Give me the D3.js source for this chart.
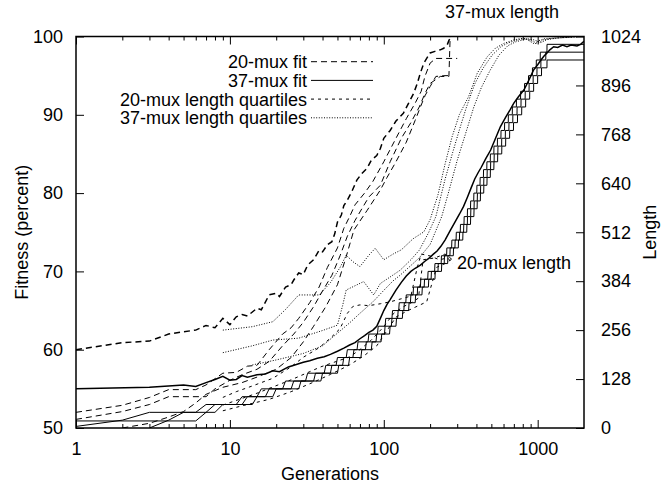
<!DOCTYPE html>
<html>
<head>
<meta charset="utf-8">
<script src="https://cdn.jsdelivr.net/npm/d3@7/dist/d3.min.js"></script>
<style>
body { margin: 0; background: #fff; }
text { font-family: "Liberation Sans", Arial, sans-serif; font-size: 18px; fill: #000; }
</style>
</head>
<body>
<svg id="chart" width="669" height="487"></svg>
<script>
// --- data: [generation, value] ---
// 20-mux fitness (percent), best and three quartiles
const fit20Best = [[1,60],[2,60.9],[3,61.1],[4,62],[5,62.3],[6,62.5],[7,63.1],[8,62.8],[9,64],[10,63.2],[11,64.2],[12,64.5],[13,64.3],[15,65.3],[16,65.1],[18,67],[20,67.2],[21,66.8],[23,68],[25,68.3],[26,68.9],[28,69.8],[30,69.6],[32,70.8],[35,71.5],[38,72.7],[40,72.5],[43,73.4],[46,73.8],[48,74.8],[50,76.3],[53,77.2],[55,78.4],[58,79.1],[62,80.2],[67,81.7],[72,82.5],[78,83.2],[83,84.2],[90,84.8],[95,85.7],[100,87],[110,88],[120,89.2],[134,90.2],[145,91.5],[156,92.7],[165,94],[172,95.2],[182,96.6],[190,97.2],[200,97.9],[215,98.1],[233,98.3],[245,98.5],[258,98.9],[265,99.5],[275,100]];
const fit20Q1 = [[1,52],[2,52.9],[3,53.9],[4,54.9],[6,54.9],[7,55.5],[9,57],[11,57.1],[13,57.9],[15,58],[18,60],[22,62],[25,62.8],[28,64],[33,66],[38,68],[43,70.5],[50,73],[55,75.5],[60,77],[65,78.5],[75,80],[85,81.5],[100,84],[120,87],[140,89.5],[160,91.5],[175,93],[185,94.9],[200,96.6],[218,97.2],[300,97.2]];
const fit20Q2 = [[1,51.1],[2,52.1],[3,53],[4,54],[7,54],[8,55],[10,56.1],[12,56.8],[15,57.5],[18,58.5],[22,60.5],[26,62],[30,63.5],[35,65.5],[40,67.5],[46,69.5],[52,72],[58,74.5],[65,76.5],[72,78],[80,79.5],[95,81],[110,84],[130,87],[150,89],[170,91],[185,92.7],[200,94],[233,94.9],[265,94.9],[270,100]];
const fit20Q3 = [[2,50],[3,50.6],[4,51.4],[5,52.1],[6,53.2],[7,54.3],[9,55.2],[12,55.8],[15,56.5],[20,57.5],[25,59],[30,61],[35,63],[42,65.5],[50,68.3],[57,71.9],[64,75.3],[78,77.8],[95,80.4],[105,82],[120,84],[140,86.5],[160,89.3],[173,91],[186,92.5],[200,93.6],[218,94.9],[250,95],[262,95]];

// 37-mux fitness (percent): best, and the three quartiles as level changes
const fit37Best = [[1,55],[3,55.2],[5,55.5],[6,55.3],[7,55.8],[8,56.2],[9,56.6],[10,56.1],[11,56.2],[12,56.7],[13,56.5],[15,56.8],[17,56.9],[19,57.3],[21,57.2],[24,57.8],[27,58.1],[30,58.4],[33,58.6],[37,58.9],[41,59.1],[45,59.4],[50,59.8],[55,60.2],[60,60.6],[65,60.9],[70,61.4],[75,61.8],[80,62.2],[85,62.5],[90,63],[95,64],[100,65],[105,65.8],[110,66.4],[120,67.6],[130,68.6],[140,69.4],[150,70],[160,70.4],[173,70.8],[185,71.3],[197,71.7],[210,72.2],[222,72.6],[235,73.2],[250,74],[270,75.2],[290,76.3],[310,77.3],[330,78.3],[350,79.5],[370,80.7],[390,81.8],[410,82.6],[430,83.3],[460,84.4],[495,85.5],[530,86.9],[573,88.5],[620,89.7],[660,90.6],[700,91.5],[750,92.3],[815,93.2],[870,94.3],[940,95.7],[1000,96.4],[1050,97],[1100,97.5],[1150,97.9],[1200,98.3],[1270,98.7],[1350,98.6],[1450,98.9],[1550,98.7],[1650,98.9],[1800,98.8],[1900,99],[2000,99.4]];
const fit37Q1 = [[1,50.9],[7,52],[8,53],[12,54],[16,55],[23,56],[32,57],[42,58],[50,59],[58,60],[68,61],[80,62],[92,63],[103,64],[114,65],[126,66],[140,67],[156,68],[174,69],[194,70],[215,71],[237,72],[257,73],[277,74],[296,75],[315,76],[333,77],[350,78],[367,79],[385,80],[403,81],[423,82],[445,83],[468,84],[493,85],[520,86],[548,87],[578,88],[610,89],[645,90],[685,91],[728,92],[775,93],[822,94],[872,95],[925,96],[980,97],[1040,98],[1150,99]];
const fit37Q2 = [[1,50.2],[2,51],[3,52],[9,53],[13,54],[18,55],[26,56],[36,57],[46,58],[55,59],[64,60],[77,61],[90,62],[102,63],[113,64],[124,65],[136,66],[150,67],[166,68],[184,69],[204,70],[226,71],[248,72],[270,73],[291,74],[311,75],[331,76],[350,77],[368,78],[387,79],[406,80],[426,81],[447,82],[470,83],[495,84],[522,85],[552,86],[584,87],[617,88],[651,89],[690,90],[735,91],[780,92],[830,93],[880,94],[935,95],[990,96],[1050,97],[1130,98]];
const fit37Q3 = [[3,50],[4,51],[5,52],[7,53],[15,54],[20,55],[29,56],[40,57],[51,58],[60,59],[72,60],[84,61],[97,62],[110,63],[121,64],[133,65],[146,66],[161,67],[178,68],[196,69],[216,70],[238,71],[261,72],[284,73],[306,74],[327,75],[347,76],[367,77],[386,78],[405,79],[425,80],[447,81],[469,82],[493,83],[520,84],[550,85],[585,86],[620,87],[658,88],[697,89],[740,90],[788,91],[836,92],[888,93],[942,94],[1000,95],[1060,96],[1150,97]];

// program length quartiles (right axis)
const len20Q1 = [[9,80],[11,95],[14,110],[19,130],[25,160],[30,185],[38,210],[45,235],[52,260],[58,300],[63,318],[70,322],[80,320],[95,325],[110,330],[130,338],[150,345],[165,420],[175,455],[200,450],[230,440],[260,445],[280,430]];
const len20Q2 = [[9,60],[15,91],[25,126],[39,160],[50,175],[60,186],[70,205],[83,230],[100,265],[116,300],[135,318],[155,330],[168,340],[180,440],[215,445],[250,455],[280,440]];
const len20Q3 = [[9,45],[12,58],[18,75],[25,95],[35,120],[45,140],[60,165],[75,190],[90,215],[105,255],[120,290],[140,305],[160,316],[190,330],[220,420],[250,430],[285,445]];
const len37Q1 = [[9,256],[14,265],[19,278],[23,310],[28,348],[38,348],[45,380],[52,420],[57,452],[63,435],[70,422],[80,452],[88,470],[100,440],[115,455],[130,466],[155,495],[182,513],[200,545],[225,610],[250,690],[278,762],[310,820],[356,867],[405,928],[470,971],[530,993],[603,1006],[700,1015],[780,1019],[850,1016],[920,1008],[960,1004],[1000,1012],[1100,1018],[1300,1020],[1600,1022],[2000,1026]];
const len37Q2 = [[9,197],[14,215],[19,230],[28,235],[40,255],[50,269],[54,320],[57,361],[65,372],[74,383],[86,348],[95,378],[110,395],[128,413],[150,440],[170,465],[195,510],[218,553],[250,650],[280,720],[310,780],[345,840],[390,900],[440,940],[505,975],[580,998],[650,1008],[760,1016],[840,1019],[920,1012],[1000,1006],[1080,1015],[1300,1020],[1700,1022],[2000,1026]];
const len37Q3 = [[14,165],[20,178],[30,195],[40,215],[50,248],[60,275],[70,300],[85,330],[100,360],[115,385],[128,400],[150,425],[170,445],[200,480],[238,553],[265,620],[300,700],[340,770],[385,840],[430,890],[490,935],[560,975],[640,1000],[720,1010],[850,1018],[950,1015],[1050,1008],[1150,1016],[1400,1021],[2000,1025]];

const fitTicks = [50, 60, 70, 80, 90, 100];
const lenTicks = [0, 128, 256, 384, 512, 640, 768, 896, 1024];
const genTicks = [1, 10, 100, 1000];
const legendLabels = ["20-mux fit", "37-mux fit", "20-mux length quartiles", "37-mux length quartiles"];

// --- layout ---
const svg = d3.select("#chart");
const m = { left: 76, right: 584, top: 36.5, bottom: 428 };

const x = d3.scaleLog().domain([1, 2000]).range([m.left, m.right]);
const yFit = d3.scaleLinear().domain([50, 100]).range([m.bottom, m.top]);
const yLen = d3.scaleLinear().domain([0, 1024]).range([m.bottom, m.top]);

const minorTicks = [];
[1, 10, 100, 1000].forEach(d => { for (let k = 2; k <= 9; k++) if (d * k < 2000) minorTicks.push(d * k); });

// line styles
const styles = {
  fit20: "6,4",
  fit37: null,
  len20: "3,4",
  len37: "1,1.6"
};

svg.append("defs").append("clipPath").attr("id", "plot")
  .append("rect").attr("x", m.left).attr("y", m.top).attr("width", m.right - m.left).attr("height", m.bottom - m.top);

const plot = svg.append("g").attr("clip-path", "url(#plot)");

function draw(data, yScale, dash, width) {
  const line = d3.line().x(d => x(d[0])).y(d => yScale(d[1]));
  plot.append("path")
    .attr("d", line(data))
    .attr("fill", "none")
    .attr("stroke", "#000")
    .attr("stroke-width", width || 1)
    .attr("stroke-dasharray", dash);
}

// turn level changes into a staircase that steps from one generation to the next
function stairs(changes) {
  const pts = [];
  changes.forEach((c, i) => {
    if (i > 0) pts.push([c[0] - 1, changes[i - 1][1]]);
    pts.push(c);
  });
  pts.push([2000, changes[changes.length - 1][1]]);
  return pts;
}

[len37Q1, len37Q2, len37Q3].forEach(d => draw(d, yLen, styles.len37, 1));
[len20Q1, len20Q2, len20Q3].forEach(d => draw(d, yLen, styles.len20, 1));
[fit20Q1, fit20Q2, fit20Q3].forEach(d => draw(d, yFit, styles.fit20, 1));
draw(fit20Best, yFit, styles.fit20, 1.5);
[fit37Q1, fit37Q2, fit37Q3].forEach(d => draw(stairs(d), yFit, styles.fit37, 1));
draw(fit37Best, yFit, styles.fit37, 1.5);

// --- axes ---
const axes = svg.append("g");
axes.append("g").attr("transform", `translate(${m.left},0)`)
  .call(d3.axisLeft(yFit).tickValues(fitTicks).tickSize(-8).tickPadding(13));
axes.append("g").attr("transform", `translate(${m.right},0)`)
  .call(d3.axisRight(yLen).tickValues(lenTicks).tickFormat(d3.format("d")).tickSize(-8).tickPadding(17));
axes.append("g").attr("transform", `translate(0,${m.bottom})`)
  .call(d3.axisBottom(x).tickValues(genTicks).tickFormat(d3.format("d")).tickSize(-8).tickPadding(14));
axes.append("g").attr("transform", `translate(0,${m.bottom})`)
  .call(d3.axisBottom(x).tickValues(minorTicks).tickFormat("").tickSize(-4));
axes.append("g").attr("transform", `translate(0,${m.top})`)
  .call(d3.axisTop(x).tickValues(genTicks).tickFormat("").tickSize(-8));
axes.append("g").attr("transform", `translate(0,${m.top})`)
  .call(d3.axisTop(x).tickValues(minorTicks).tickFormat("").tickSize(-4));

axes.selectAll(".domain").remove();
axes.selectAll(".tick line").attr("stroke", "#000").attr("stroke-width", 1);
axes.selectAll("g").attr("font-size", null).attr("font-family", null);

svg.append("rect")
  .attr("x", m.left).attr("y", m.top).attr("width", m.right - m.left).attr("height", m.bottom - m.top)
  .attr("fill", "none").attr("stroke", "#000").attr("stroke-width", 1.5);

// axis titles
svg.append("text").attr("x", (m.left + m.right) / 2).attr("y", 480).attr("text-anchor", "middle").text("Generations");
svg.append("text").attr("transform", `translate(28,${(m.top + m.bottom) / 2}) rotate(-90)`).attr("text-anchor", "middle").text("Fitness (percent)");
svg.append("text").attr("transform", `translate(656,${(m.top + m.bottom) / 2}) rotate(-90)`).attr("text-anchor", "middle").text("Length");

// curve labels
svg.append("text").attr("x", 445).attr("y", 18).text("37-mux length");
svg.append("text").attr("x", 457).attr("y", 269).text("20-mux length");

// --- legend ---
const legendDash = [styles.fit20, styles.fit37, styles.len20, styles.len37];
const legend = svg.append("g");
legendLabels.forEach((label, i) => {
  const cy = 61.7 + i * 18.7;
  legend.append("text").attr("x", 307).attr("y", cy + 6.5).attr("text-anchor", "end").text(label);
  legend.append("line")
    .attr("x1", 311).attr("x2", 373).attr("y1", cy).attr("y2", cy)
    .attr("stroke", "#000").attr("stroke-width", 1)
    .attr("stroke-dasharray", legendDash[i]);
});
</script>
</body>
</html>
